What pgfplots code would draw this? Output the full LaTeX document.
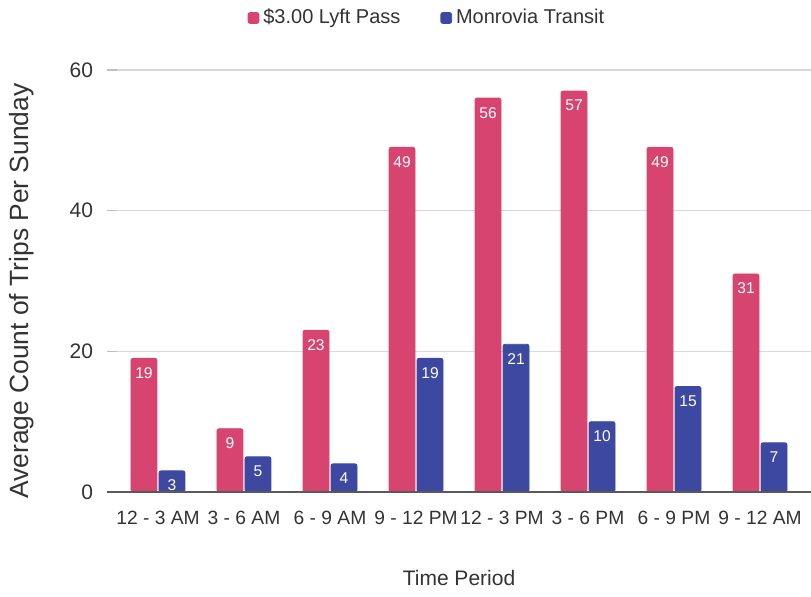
\documentclass[border=0pt]{standalone}
\usepackage{fontspec}
\setmainfont{Liberation Sans}
\usepackage{pgfplots}
\pgfplotsset{compat=1.18}
\definecolor{lyft}{HTML}{D6446F}
\definecolor{transit}{HTML}{3D49A0}
\definecolor{txt}{HTML}{333333}
\begin{document}
\begin{tikzpicture}
\begin{axis}[
  at={(0pt,0pt)}, anchor=south west,
  scale only axis, width=352pt, height=211pt,
  xmin=-0.593, xmax=7.593, ymin=0, ymax=60,
  ybar, bar width=13pt,
  axis line style={draw=none},
  ytick={0,20,40,60},
  ytick pos=left,
  ymajorgrids, grid style={draw=black!15, line width=0.6pt},
  major tick length=5pt,
  ytick style={draw=black!25, line width=0.6pt},
  xtick={0,...,7},
  xticklabels={12 - 3 AM,3 - 6 AM,6 - 9 AM,9 - 12 PM,12 - 3 PM,3 - 6 PM,6 - 9 PM,9 - 12 AM},
  xtick style={draw=none},
  tick label style={text=txt},
  xticklabel style={font=\fontsize{9.6}{11}\selectfont, yshift=-1pt},
  yticklabel style={font=\fontsize{10.5}{12}\selectfont, xshift=-3.5pt},
  /pgf/number format/assume math mode=true,
  xlabel={Time Period},
  ylabel={Average Count of Trips Per Sunday},
  xlabel style={font=\fontsize{10.5}{12}\selectfont, text=txt, at={(axis description cs:0.5,0)}, anchor=center, yshift=-43pt},
  ylabel style={font=\fontsize{13.2}{15}\selectfont, text=txt, at={(axis description cs:-0.1207,0.476)}, anchor=center},
  legend columns=2,
  legend style={draw=none, fill=none, at={(160.5pt,237pt)}, anchor=center, font=\fontsize{10}{12}\selectfont, text=txt, /tikz/every even column/.append style={column sep=18pt}},
  legend image code/.code={\fill[#1] (0pt,-2.7pt) rectangle (5.4pt,2.7pt);},
  nodes near coords,
  every node near coord/.append style={anchor=north, text=white, font=\fontsize{7.8}{9}\selectfont, yshift=-1pt},
  clip=false,
]
\addplot+[bar shift=-7pt, fill=lyft, draw=lyft, rounded corners=1pt] coordinates {(0,19) (1,9) (2,23) (3,49) (4,56) (5,57) (6,49) (7,31)};
\addlegendentry{\$3.00 Lyft Pass}
\addplot+[bar shift=7pt, fill=transit, draw=transit, rounded corners=1pt] coordinates {(0,3) (1,5) (2,4) (3,19) (4,21) (5,10) (6,15) (7,7)};
\addlegendentry{Monrovia Transit}
\draw[black!65, line width=0.8pt] (axis cs:-0.593,0) -- (axis cs:7.593,0);
\end{axis}
\pgfresetboundingbox
\useasboundingbox (-53.5pt,-52.5pt) rectangle (352pt,246pt);
\end{tikzpicture}
\end{document}
